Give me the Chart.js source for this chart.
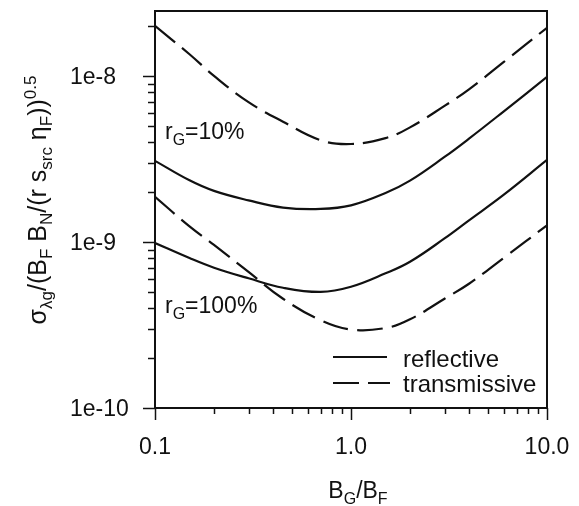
<!DOCTYPE html>
<html>
<head>
<meta charset="utf-8">
<script src="https://cdn.jsdelivr.net/npm/chart.js@4"></script>
<style>
  html, body { margin: 0; padding: 0; background: #fff; }
  #wrap { width: 579px; height: 506px; }
</style>
</head>
<body>
<div id="wrap"><canvas id="noise-chart" width="579" height="506"></canvas></div>
<script>
// values (log-log)
const ratioValues = [0.1, 0.15, 0.2, 0.3, 0.45, 0.7, 1.0, 1.5, 2.0, 3.0, 4.0, 6.0, 10.0];
const transmissive10 = [2.0e-8, 1.35e-8, 1.0e-8, 6.95e-9, 5.3e-9, 4.1e-9, 3.89e-9, 4.22e-9, 4.9e-9, 6.6e-9, 8.3e-9, 1.21e-8, 1.95e-8];
const reflective10 = [3.08e-9, 2.35e-9, 2.03e-9, 1.78e-9, 1.61e-9, 1.58e-9, 1.66e-9, 1.97e-9, 2.34e-9, 3.25e-9, 4.19e-9, 6.1e-9, 9.86e-9];
const transmissive100 = [1.87e-9, 1.24e-9, 9.6e-10, 6.6e-10, 4.55e-10, 3.38e-10, 2.97e-10, 3.03e-10, 3.42e-10, 4.55e-10, 5.6e-10, 8.0e-10, 1.26e-9];
const reflective100 = [9.86e-10, 8.0e-10, 7.0e-10, 6.04e-10, 5.3e-10, 5.0e-10, 5.37e-10, 6.47e-10, 7.6e-10, 1.05e-9, 1.35e-9, 1.92e-9, 3.12e-9];

const xTickValues = [0.1, 1, 10];
const xTickLabels = ['0.1', '1.0', '10.0'];
const yTickValues = [1e-10, 1e-9, 1e-8];
const yTickLabels = ['1e-10', '1e-9', '1e-8'];

const FONT = '"Liberation Sans", Arial, Helvetica, sans-serif';
const INK = '#111';
const DASH = [26, 9];

function toPoints(ys) {
    return ratioValues.map((x, i) => ({ x: x, y: ys[i] }));
}

// draw text with sub/superscripts; parts = [[text, kind], ...]
function richWidth(ctx, parts, big, small) {
    let w = 0;
    parts.forEach(p => {
        ctx.font = (p[1] ? small : big) + 'px ' + FONT;
        w += ctx.measureText(p[0]).width;
    });
    return w;
}
function drawRich(ctx, parts, x, y, big, small) {
    let cx = x;
    parts.forEach(p => {
        ctx.font = (p[1] ? small : big) + 'px ' + FONT;
        let dy = p[1] === 'sub' ? 6 : (p[1] === 'sup' ? -10 : 0);
        ctx.fillText(p[0], cx, y + dy);
        cx += ctx.measureText(p[0]).width;
    });
}

const axesPlugin = {
    id: 'paperAxes',
    afterDraw(chart) {
        const ctx = chart.ctx;
        const a = chart.chartArea;
        const xs = chart.scales.x, ys = chart.scales.y;
        ctx.save();
        ctx.strokeStyle = INK;
        ctx.fillStyle = INK;
        ctx.lineWidth = 2;
        ctx.setLineDash([]);
        ctx.strokeRect(a.left, a.top, a.right - a.left, a.bottom - a.top);

        // y ticks (outside, to the left)
        ctx.lineWidth = 1.5;
        for (let d = -10; d <= -8; d++) {
            for (let m = 1; m <= 9; m++) {
                const v = m * Math.pow(10, d);
                if (v < ys.min * 0.999 || v > ys.max) continue;
                const y = Math.round(ys.getPixelForValue(v)) + 0.5;
                const len = m === 1 ? 12 : 7;
                ctx.beginPath();
                ctx.moveTo(a.left - len, y);
                ctx.lineTo(a.left, y);
                ctx.stroke();
            }
        }
        // x ticks (outside, below)
        for (let d = -1; d <= 1; d++) {
            for (let m = 1; m <= 9; m++) {
                const v = m * Math.pow(10, d);
                if (v < xs.min * 0.999 || v > xs.max * 1.001) continue;
                const x = Math.round(xs.getPixelForValue(v)) + 0.5;
                const len = m === 1 ? 12 : 6;
                ctx.beginPath();
                ctx.moveTo(x, a.bottom);
                ctx.lineTo(x, a.bottom + len);
                ctx.stroke();
            }
        }

        ctx.font = '23px ' + FONT;
        ctx.textBaseline = 'alphabetic';
        ctx.textAlign = 'left';
        yTickValues.forEach((v, i) => {
            ctx.fillText(yTickLabels[i], 70, ys.getPixelForValue(v) + 8);
        });
        ctx.textAlign = 'center';
        xTickValues.forEach((v, i) => {
            ctx.fillText(xTickLabels[i], xs.getPixelForValue(v), 454);
        });

        // axis titles
        ctx.textAlign = 'left';
        const xTitle = [['B', ''], ['G', 'sub'], ['/B', ''], ['F', 'sub']];
        drawRich(ctx, xTitle, 358 - richWidth(ctx, xTitle, 23, 16) / 2, 498, 23, 16);

        const yTitle = [['σ', ''], ['λg', 'sub'], ['/(B', ''], ['F', 'sub'], [' B', ''], ['N', 'sub'],
            ['/(r s', ''], ['src', 'sub'], [' η', ''], ['F', 'sub'], ['))', ''], ['0.5', 'sup']];
        ctx.save();
        ctx.translate(46, 200);
        ctx.rotate(-Math.PI / 2);
        drawRich(ctx, yTitle, -richWidth(ctx, yTitle, 25, 17) / 2, 0, 25, 17);
        ctx.restore();

        // curve annotations
        drawRich(ctx, [['r', ''], ['G', 'sub'], ['=10%', '']], 165, 139, 23, 16);
        drawRich(ctx, [['r', ''], ['G', 'sub'], ['=100%', '']], 165, 313, 23, 16);

        // legend
        ctx.lineWidth = 2;
        ctx.beginPath();
        ctx.moveTo(333, 357); ctx.lineTo(387, 357);
        ctx.stroke();
        ctx.setLineDash(DASH);
        ctx.beginPath();
        ctx.moveTo(333, 383); ctx.lineTo(390, 383);
        ctx.stroke();
        ctx.setLineDash([]);
        ctx.font = '24px ' + FONT;
        ctx.fillText('reflective', 403, 367);
        ctx.fillText('transmissive', 403, 392);
        ctx.restore();
    }
};

function series(label, ys, dashed) {
    return {
        label: label,
        data: toPoints(ys),
        borderColor: INK,
        borderWidth: 2.2,
        borderDash: dashed ? DASH : [],
        pointRadius: 0,
        tension: 0.4,
        fill: false
    };
}

const ctx = document.getElementById('noise-chart').getContext('2d');
new Chart(ctx, {
    type: 'line',
    data: {
        datasets: [
            series('transmissive r_G=10%', transmissive10, true),
            series('reflective r_G=10%', reflective10, false),
            series('transmissive r_G=100%', transmissive100, true),
            series('reflective r_G=100%', reflective100, false)
        ]
    },
    options: {
        responsive: false,
        animation: false,
        layout: { padding: { left: 155, top: 11, right: 32, bottom: 98 } },
        plugins: { legend: { display: false }, tooltip: { enabled: false } },
        scales: {
            x: { type: 'logarithmic', min: 0.1, max: 10, display: false },
            y: { type: 'logarithmic', min: 1e-10, max: 2.46e-8, display: false }
        }
    },
    plugins: [axesPlugin]
});
</script>
</body>
</html>
